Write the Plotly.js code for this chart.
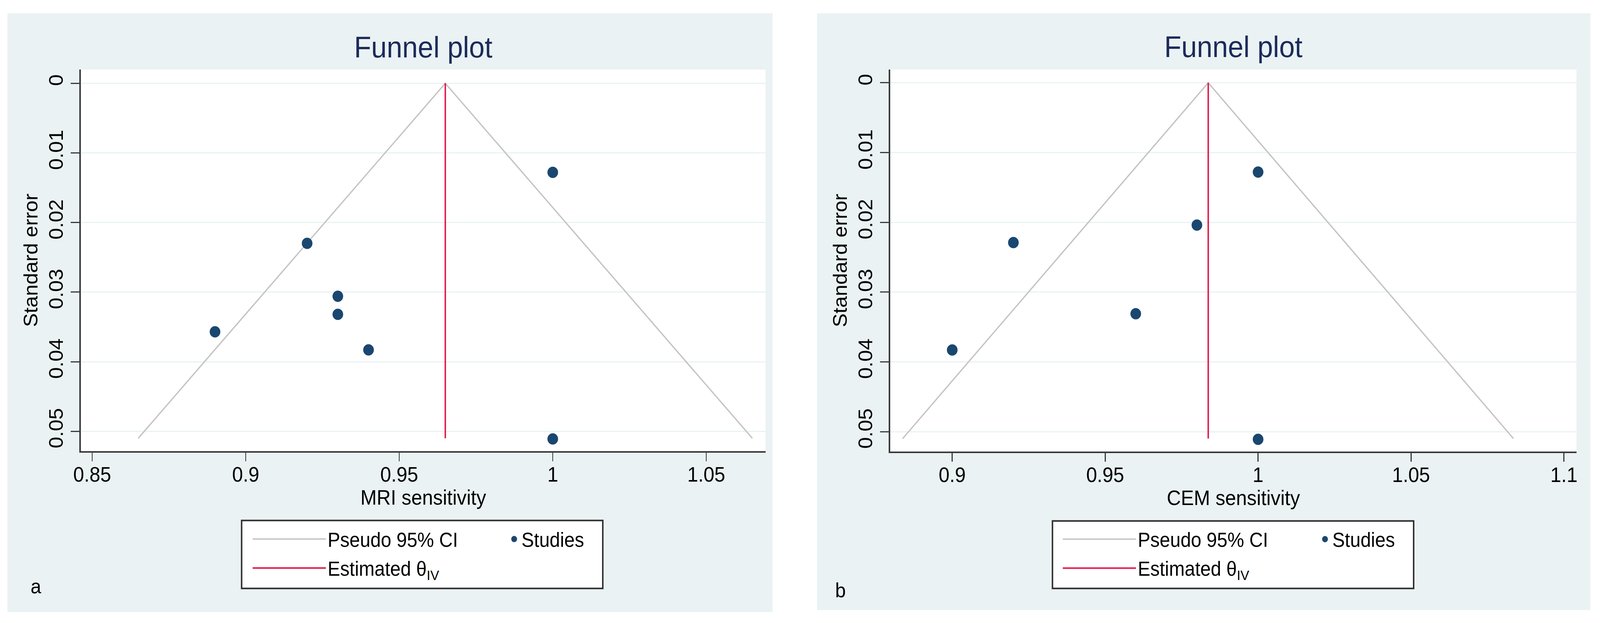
<!DOCTYPE html>
<html><head><meta charset="utf-8">
<script src="https://cdn.plot.ly/plotly-3.0.1.min.js"></script>
<style>
html,body{margin:0;padding:0;background:#ffffff;overflow:hidden;}
#wrap{position:absolute;left:0;top:0;width:4351px;height:1595px;transform-origin:0 0;}
.panel{position:absolute;}
</style></head><body>
<div id="wrap">
<div id="pa" class="panel"></div>
<div id="pb" class="panel"></div>
</div>
<script>
// ---------- Panel a : MRI ----------
const mriSensitivity = [1.00, 0.92, 0.93, 0.93, 0.89, 0.94, 1.00];
const mriStdError    = [0.0128, 0.0230, 0.0306, 0.0332, 0.0357, 0.0383, 0.0511];
const mriCiX = [0.865, 0.965, 1.065];
const mriCiY = [0.0510, 0, 0.0510];
const mriThetaX = [0.965, 0.965];
const mriThetaY = [0, 0.0510];
const mriXTicks = [0.85, 0.9, 0.95, 1, 1.05];
const mriXTickText = ["0.85", "0.9", "0.95", "1", "1.05"];

// ---------- Panel b : CEM ----------
const cemSensitivity = [1.00, 0.98, 0.92, 0.96, 0.90, 1.00];
const cemStdError    = [0.0128, 0.0204, 0.0229, 0.0331, 0.0383, 0.0511];
const cemCiX = [0.8838, 0.9837, 1.0835];
const cemCiY = [0.0510, 0, 0.0510];
const cemThetaX = [0.9837, 0.9837];
const cemThetaY = [0, 0.0510];
const cemXTicks = [0.9, 0.95, 1, 1.05, 1.1];
const cemXTickText = ["0.9", "0.95", "1", "1.05", "1.1"];

// ---------- shared ----------
const yTicks = [0, 0.01, 0.02, 0.03, 0.04, 0.05];
const yTickText = ["0", "0.01", "0.02", "0.03", "0.04", "0.05"];
const legendNames = ["Pseudo 95% CI", "Estimated θ<sub>IV</sub>", "Studies"];

const FONT = "Liberation Sans, Arial, Helvetica, sans-serif";
const BG = "#eaf2f3";
const AXIS = "#3a3a3a";

// fit the 4351x1595 design to the real viewport
(function fit() {
  const W = window.innerWidth || 4351, H = window.innerHeight || 1595;
  document.getElementById("wrap").style.transform = "scale(" + (W / 4351) + "," + (H / 1595) + ")";
})();

function build(divId, g, d) {
  const el = document.getElementById(divId);
  el.style.left = g.left + "px"; el.style.top = g.top + "px";
  el.style.width = g.w + "px"; el.style.height = g.h + "px";
  const pw = g.plotR - g.plotL, ph = g.plotB - g.plotT;
  const fx = X => (X - g.plotL) / pw;
  const fy = Y => (g.plotB - Y) / ph;

  const traces = [
    {x: d.ciX, y: d.ciY, type: "scatter", mode: "lines", name: legendNames[0],
     line: {color: "#c4c4c4", width: 3.5}, legend: "legend", legendgroup: "g1", hoverinfo: "skip"},
    {x: d.thX, y: d.thY, type: "scatter", mode: "lines", name: legendNames[1],
     line: {color: "#e5194c", width: 4}, legend: "legend", legendgroup: "g2", hoverinfo: "skip"},
    {x: d.sx, y: d.sy, type: "scatter", mode: "markers", name: legendNames[2],
     marker: {color: "#1a476f", size: 29}, legend: "legend2", legendgroup: "g3"}
  ];

  const axisCommon = {
    showline: true, linecolor: AXIS, linewidth: 4, mirror: false,
    ticks: "outside", tickcolor: AXIS, tickwidth: 3,
    tickfont: {family: FONT, size: 53, color: "#000"},
    zeroline: false, automargin: false, fixedrange: true
  };

  const layout = {
    width: g.w, height: g.h,
    paper_bgcolor: BG, plot_bgcolor: "#ffffff",
    margin: {l: g.plotL - g.left, r: g.left + g.w - g.plotR, t: g.plotT - g.top, b: g.top + g.h - g.plotB, pad: 0},
    font: {family: FONT, color: "#000"},
    title: {text: "Funnel plot", font: {family: FONT, size: 76, color: "#1c2b5a"},
            x: 0.5, xref: "paper", xanchor: "center",
            y: 1 - (g.titleY - g.top) / g.h, yref: "container", yanchor: "middle"},
    xaxis: Object.assign({}, axisCommon, {
      range: d.xRange, tickvals: d.xTicks, ticktext: d.xTickText, ticklen: 22,
      ticklabelstandoff: -12, showgrid: false,
      title: {text: d.xTitle, font: {family: FONT, size: 53, color: "#000"}, standoff: 0}
    }),
    yaxis: Object.assign({}, axisCommon, {
      range: d.yRange, tickvals: yTicks, ticktext: yTickText, ticklen: 24, tickangle: -90,
      showgrid: true, gridcolor: BG, gridwidth: 3,
      title: {text: "Standard error", font: {family: FONT, size: 53, color: "#000"}, standoff: 4}
    }),
    showlegend: true,
    legend: {x: fx(g.leg1X), y: fy(g.legTop), xanchor: "left", yanchor: "top",
             orientation: "v", itemwidth: 199, tracegroupgap: 5,
             bgcolor: "rgba(0,0,0,0)", borderwidth: 0,
             font: {family: FONT, size: 51, color: "#000"}, itemclick: false, itemdoubleclick: false},
    legend2: {x: fx(g.leg2X), y: fy(g.legTop), xanchor: "left", yanchor: "top",
             orientation: "v", itemwidth: 30,
             bgcolor: "rgba(0,0,0,0)", borderwidth: 0,
             font: {family: FONT, size: 51, color: "#000"}, itemclick: false, itemdoubleclick: false},
    shapes: [
      {type: "rect", xref: "paper", yref: "paper", layer: "below",
       x0: fx(g.boxL), x1: fx(g.boxR), y0: fy(g.boxB), y1: fy(g.boxT),
       line: {color: "#2e2e2e", width: 4}, fillcolor: "#ffffff"}
    ],
    annotations: [
      {text: d.label, xref: "paper", yref: "paper", x: fx(g.labX), y: fy(g.labY),
       xanchor: "center", yanchor: "middle", showarrow: false,
       font: {family: FONT, size: 52, color: "#000"}}
    ]
  };

  Plotly.newPlot(el, traces, layout, {staticPlot: true, displayModeBar: false});
}

build("pa",
  {left: 20, top: 34, w: 2081, h: 1533, plotL: 220, plotR: 2081.7, plotT: 178.3, plotB: 1154.7,
   titleY: 120, leg1X: 682, leg2X: 1378, legTop: 1340, boxL: 657, boxR: 1639, boxT: 1332, boxB: 1506,
   labX: 98, labY: 1500},
  {sx: mriSensitivity, sy: mriStdError, ciX: mriCiX, ciY: mriCiY, thX: mriThetaX, thY: mriThetaY,
   xTicks: mriXTicks, xTickText: mriXTickText, xRange: [0.84632, 1.06933], yRange: [0.05285, -0.00198],
   xTitle: "MRI sensitivity", label: "a"});

build("pb",
  {left: 2222, top: 34, w: 2103, h: 1528, plotL: 2421, plotR: 4286.7, plotT: 178, plotB: 1156.3,
   titleY: 119, leg1X: 2885, leg2X: 3583, legTop: 1341, boxL: 2862, boxR: 3844, boxT: 1334, boxB: 1507,
   labX: 2286, labY: 1511},
  {sx: cemSensitivity, sy: cemStdError, ciX: cemCiX, ciY: cemCiY, thX: cemThetaX, thY: cemThetaY,
   xTicks: cemXTicks, xTickText: cemXTickText, xRange: [0.87975, 1.10409], yRange: [0.052855, -0.0019],
   xTitle: "CEM sensitivity", label: "b"});
</script>
</body></html>
